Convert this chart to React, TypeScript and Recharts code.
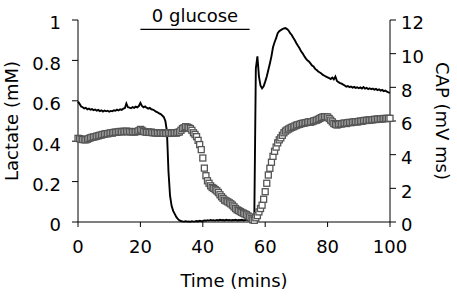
import React from 'react';
import { ComposedChart, Line, Scatter, XAxis, YAxis, ReferenceLine } from 'recharts';

// sampled every 0.5 min, t = 0 .. 100
const lactate = [
  0.596, 0.585, 0.572, 0.568, 0.562, 0.565, 0.558, 0.561, 0.556, 0.559,
  0.554, 0.557, 0.551, 0.555, 0.549, 0.553, 0.547, 0.552, 0.548, 0.551,
  0.546, 0.55, 0.548, 0.553, 0.551, 0.556, 0.552, 0.558, 0.555, 0.561,
  0.563, 0.587, 0.568, 0.566, 0.563, 0.569, 0.565, 0.571, 0.567, 0.574,
  0.59, 0.575, 0.568, 0.572, 0.566, 0.561, 0.565, 0.558, 0.556, 0.552,
  0.546, 0.543, 0.538, 0.534, 0.527, 0.52, 0.5, 0.45, 0.25, 0.13,
  0.08, 0.055, 0.04, 0.025, 0.015, 0.008, 0.005, 0.003, 0.002, 0.004,
  0.002, 0.003, 0.001, 0.004, 0.002, 0.003, 0.005, 0.003, 0.006, 0.004,
  0.005, 0.008, 0.006, 0.009, 0.007, 0.01, 0.008, 0.009, 0.007, 0.01,
  0.008, 0.011, 0.009, 0.01, 0.008, 0.011, 0.009, 0.01, 0.008, 0.01,
  0.009, 0.011, 0.008, 0.01, 0.009, 0.011, 0.008, 0.01, 0.009, 0.008,
  0.01, 0.008, 0.01, 0.01, 0.76, 0.82, 0.72, 0.675, 0.662, 0.672,
  0.695, 0.72, 0.752, 0.785, 0.82, 0.865, 0.89, 0.91, 0.935, 0.945,
  0.95, 0.955, 0.958, 0.96, 0.955, 0.948, 0.935, 0.926, 0.912, 0.9,
  0.885, 0.872, 0.86, 0.845, 0.835, 0.822, 0.81, 0.8, 0.795, 0.785,
  0.775, 0.77, 0.758, 0.752, 0.745, 0.74, 0.735, 0.728, 0.724, 0.72,
  0.716, 0.712, 0.708, 0.715, 0.706, 0.72, 0.698, 0.692, 0.688, 0.685,
  0.68, 0.676, 0.67, 0.673, 0.668, 0.671, 0.665, 0.669, 0.664, 0.667,
  0.662, 0.666, 0.661, 0.668, 0.66, 0.664, 0.658, 0.662, 0.657, 0.66,
  0.655, 0.659, 0.653, 0.657, 0.65, 0.654, 0.648, 0.651, 0.645, 0.642,
  0.64,
];

const cap = [
  4.97, 4.95, 4.92, 4.9, 4.89, 4.88, 4.92, 4.96, 5.0, 5.03,
  5.05, 5.07, 5.1, 5.12, 5.15, 5.17, 5.2, 5.22, 5.25, 5.24,
  5.27, 5.3, 5.28, 5.32, 5.34, 5.33, 5.36, 5.38, 5.35, 5.39,
  5.37, 5.4, 5.36, 5.38, 5.35, 5.37, 5.34, 5.36, 5.38, 5.42,
  5.5, 5.45, 5.38, 5.35, 5.33, 5.35, 5.32, 5.34, 5.3, 5.31,
  5.28, 5.3, 5.27, 5.29, 5.3, 5.27, 5.28, 5.26, 5.3, 5.28,
  5.27, 5.29, 5.3, 5.28, 5.32, 5.35, 5.45, 5.55, 5.6, 5.66,
  5.64, 5.6, 5.55, 5.45, 5.3, 5.2, 5.07, 4.85, 4.6, 4.3,
  3.8, 3.2, 2.75, 2.45, 2.3, 2.15, 2.05, 2.0, 1.92, 1.85,
  1.75, 1.62, 1.5, 1.4, 1.3, 1.25, 1.2, 1.14, 1.08, 1.0,
  0.9, 0.8, 0.72, 0.68, 0.62, 0.57, 0.52, 0.48, 0.43, 0.36,
  0.3, 0.22, 0.13, 0.1, 0.25, 0.38, 0.6, 0.8, 1.0, 1.35,
  1.8, 2.3, 2.79, 3.19, 3.55, 3.9, 4.2, 4.45, 4.7, 4.88,
  5.0, 5.15, 5.3, 5.4, 5.47, 5.52, 5.58, 5.62, 5.66, 5.7,
  5.75, 5.78, 5.8, 5.84, 5.86, 5.88, 5.9, 5.92, 5.95, 5.93,
  5.96, 6.0, 6.03, 6.05, 6.1, 6.15, 6.2, 6.24, 6.26, 6.25,
  6.24, 6.15, 6.05, 5.95, 5.85, 5.8, 5.76, 5.8, 5.84, 5.82,
  5.86, 5.88, 5.85, 5.9, 5.92, 5.9, 5.93, 5.95, 5.96, 5.94,
  5.97, 6.0, 5.98, 6.02, 6.04, 6.03, 6.06, 6.05, 6.08, 6.07,
  6.1, 6.09, 6.12, 6.11, 6.13, 6.12, 6.15, 6.14, 6.16, 6.15,
  6.16,
];

const timeTicks = [0, 20, 40, 60, 80, 100];
const lactateTicks = [0, 0.2, 0.4, 0.6, 0.8, 1];
const capTicks = [0, 2, 4, 6, 8, 10, 12];
const glucoseOff = [20, 55];

const font = '"DejaVu Sans", Verdana, sans-serif';
const tickStyle = { fill: '#000', fontSize: 18, dy: 3 };

const Square = (p: any) => (
  <rect x={p.cx - 3} y={p.cy - 3} width={6} height={6} fill="#fff" stroke="#555" strokeWidth={1.3} />
);

export default function App() {
  const data = lactate.map((v, i) => ({ t: i * 0.5, lac: v, cap: cap[i] }));

  return (
    <div style={{ position: 'absolute', left: 0, top: 0, width: 457, height: 299, background: '#fff', fontFamily: font }}>
      <ComposedChart width={457} height={299} data={data} margin={{ top: 20, right: 0, bottom: 0, left: 0 }}>
        <XAxis
          dataKey="t"
          type="number"
          domain={[0, 100]}
          ticks={timeTicks}
          stroke="#000"
          tickSize={5}
          tickMargin={13}
          height={77}
          tick={{ fill: '#000', fontSize: 18 }}
          label={{ value: 'Time (mins)', position: 'insideBottom', offset: 12, fill: '#000', fontSize: 18 }}
        />
        <YAxis
          yAxisId="l"
          domain={[0, 1]}
          ticks={lactateTicks}
          stroke="#000"
          width={78}
          tickSize={6}
          tickMargin={11}
          tick={tickStyle}
          label={{ value: 'Lactate (mM)', angle: -90, position: 'insideLeft', offset: 12, fill: '#000', fontSize: 18, style: { textAnchor: 'middle' } }}
        />
        <YAxis
          yAxisId="r"
          orientation="right"
          domain={[0, 12]}
          ticks={capTicks}
          stroke="#000"
          width={67}
          tickSize={6}
          tickMargin={5}
          tick={tickStyle}
          label={{ value: 'CAP (mV ms)', angle: 90, position: 'insideRight', offset: 15, fill: '#000', fontSize: 18, style: { textAnchor: 'middle' } }}
        />
        <ReferenceLine
          yAxisId="l"
          segment={[{ x: glucoseOff[0], y: 0.954 }, { x: glucoseOff[1], y: 0.954 }]}
          stroke="#000"
          strokeWidth={1.2}
          label={{ value: '0 glucose', position: 'top', offset: 7, fill: '#000', fontSize: 18 }}
        />
        <Line yAxisId="l" dataKey="lac" type="linear" stroke="#000" strokeWidth={1.9} dot={false} isAnimationActive={false} />
        <Scatter yAxisId="r" dataKey="cap" shape={Square} isAnimationActive={false} />
      </ComposedChart>
    </div>
  );
}
